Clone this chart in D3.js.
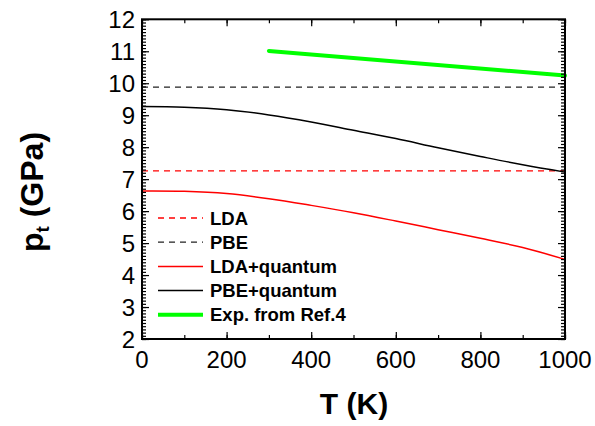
<!DOCTYPE html>
<html>
<head>
<meta charset="utf-8">
<script src="https://cdn.jsdelivr.net/npm/d3@7"></script>
<style>
  body { margin: 0; background: #fff; }
  text { font-family: Arial, "Liberation Sans", sans-serif; }
</style>
</head>
<body>
<script>
// temperatures (K) and transition pressures (GPa)
var temps = [0, 100, 200, 300, 400, 500, 600, 700, 800, 900, 1000];
var ldaQuantum = [6.63, 6.62, 6.55, 6.39, 6.18, 5.95, 5.69, 5.42, 5.15, 4.86, 4.49];
var pbeQuantum = [9.27, 9.25, 9.17, 9.01, 8.79, 8.53, 8.27, 7.98, 7.71, 7.45, 7.22];
var ldaStatic = 7.26;
var pbeStatic = 9.88;
var expTemps = [300, 1000];
var expValues = [11.01, 10.24];
var xTicks = [0, 200, 400, 600, 800, 1000];
var yTicks = [2, 3, 4, 5, 6, 7, 8, 9, 10, 11, 12];

var width = 595, height = 426;
var plotLeft = 142, plotRight = 565, plotTop = 19.3, plotBottom = 339;

var svg = d3.select("body").append("svg")
    .attr("width", width)
    .attr("height", height);

var x = d3.scaleLinear().domain([0, 1000]).range([plotLeft, plotRight]);
var y = d3.scaleLinear().domain([2, 12]).range([plotBottom, plotTop]);

var line = d3.line()
    .x(function(d) { return x(d[0]); })
    .y(function(d) { return y(d[1]); })
    .curve(d3.curveCatmullRom.alpha(0.5));

// static (dashed) results
svg.append("line")
    .attr("x1", x(0)).attr("x2", x(1000))
    .attr("y1", y(ldaStatic)).attr("y2", y(ldaStatic))
    .attr("stroke", "#ff0000").attr("stroke-width", 1.3)
    .attr("stroke-dasharray", "6,5");
svg.append("line")
    .attr("x1", x(0)).attr("x2", x(1000))
    .attr("y1", y(pbeStatic)).attr("y2", y(pbeStatic))
    .attr("stroke", "#222").attr("stroke-width", 1.3)
    .attr("stroke-dasharray", "6,5");

svg.append("path")
    .datum(d3.zip(temps, ldaQuantum))
    .attr("d", line)
    .attr("fill", "none").attr("stroke", "#ff0000").attr("stroke-width", 1.5);

svg.append("path")
    .datum(d3.zip(temps, pbeQuantum))
    .attr("d", line)
    .attr("fill", "none").attr("stroke", "#000").attr("stroke-width", 1.5);

svg.append("path")
    .datum(d3.zip(expTemps, expValues))
    .attr("d", d3.line().x(function(d) { return x(d[0]); }).y(function(d) { return y(d[1]); }))
    .attr("fill", "none").attr("stroke", "#00ff00").attr("stroke-width", 4)
    .attr("stroke-linecap", "round");

// axes with inward ticks
function minorRange(a, b, s) {
  var out = [];
  for (var i = 0; a + i * s <= b + 1e-9; i++) out.push(+(a + i * s).toFixed(2));
  return out;
}
var xMinor = minorRange(0, 1000, 100);
var yMinor = minorRange(2, 12, 0.1);

svg.append("g").attr("transform", "translate(0," + plotBottom + ")")
    .call(d3.axisTop(x).tickValues(xMinor).tickSize(4).tickFormat(""));
svg.append("g").attr("transform", "translate(0," + plotBottom + ")")
    .call(d3.axisTop(x).tickValues(xTicks).tickSize(7).tickFormat(""));
svg.append("g").attr("transform", "translate(0," + plotTop + ")")
    .call(d3.axisBottom(x).tickValues(xMinor).tickSize(4).tickFormat(""));
svg.append("g").attr("transform", "translate(0," + plotTop + ")")
    .call(d3.axisBottom(x).tickValues(xTicks).tickSize(7).tickFormat(""));

svg.append("g").attr("transform", "translate(" + plotLeft + ",0)")
    .call(d3.axisRight(y).tickValues(yMinor).tickSize(4).tickFormat(""));
svg.append("g").attr("transform", "translate(" + plotLeft + ",0)")
    .call(d3.axisRight(y).tickValues(yTicks).tickSize(7).tickFormat(""));
svg.append("g").attr("transform", "translate(" + plotRight + ",0)")
    .call(d3.axisLeft(y).tickValues(yMinor).tickSize(4).tickFormat(""));
svg.append("g").attr("transform", "translate(" + plotRight + ",0)")
    .call(d3.axisLeft(y).tickValues(yTicks).tickSize(7).tickFormat(""));

svg.selectAll(".domain").remove();
svg.selectAll(".tick line").attr("stroke", "#000").attr("stroke-width", 1.2);

svg.append("rect")
    .attr("x", plotLeft).attr("y", plotTop)
    .attr("width", plotRight - plotLeft).attr("height", plotBottom - plotTop)
    .attr("fill", "none").attr("stroke", "#000").attr("stroke-width", 2);

// tick labels
svg.selectAll(".xlab").data(xTicks).enter().append("text")
    .attr("x", function(d) { return x(d); })
    .attr("y", 368)
    .attr("text-anchor", "middle")
    .attr("font-size", 24)
    .text(function(d) { return d; });

svg.selectAll(".ylab").data(yTicks).enter().append("text")
    .attr("x", 135)
    .attr("y", function(d) { return y(d); })
    .attr("dy", "0.36em")
    .attr("text-anchor", "end")
    .attr("font-size", 24)
    .text(function(d) { return d; });

// axis titles
svg.append("text")
    .attr("x", 354).attr("y", 414)
    .attr("text-anchor", "middle")
    .attr("font-size", 30).attr("font-weight", "bold")
    .text("T (K)");

var yt = svg.append("text")
    .attr("transform", "translate(43,192) rotate(-90)")
    .attr("text-anchor", "middle")
    .attr("font-size", 32).attr("font-weight", "bold");
yt.append("tspan").text("p");
yt.append("tspan").attr("font-size", 19).attr("dy", 6).text("t");
yt.append("tspan").attr("dy", -6).text(" (GPa)");

// legend
var legend = [
  { name: "LDA", color: "#ff0000", width: 1.3, dash: "6,5" },
  { name: "PBE", color: "#222", width: 1.3, dash: "6,5" },
  { name: "LDA+quantum", color: "#ff0000", width: 1.5, dash: null },
  { name: "PBE+quantum", color: "#000", width: 1.5, dash: null },
  { name: "Exp. from Ref.4", color: "#00ff00", width: 4, dash: null }
];
var lg = svg.selectAll(".leg").data(legend).enter().append("g")
    .attr("transform", function(d, i) { return "translate(0," + (218 + i * 24.2) + ")"; });
lg.append("line")
    .attr("x1", 158).attr("x2", 203)
    .attr("stroke", function(d) { return d.color; })
    .attr("stroke-width", function(d) { return d.width; })
    .attr("stroke-dasharray", function(d) { return d.dash; });
lg.append("text")
    .attr("x", 210).attr("dy", "0.36em")
    .attr("font-size", 18.5).attr("font-weight", "bold")
    .text(function(d) { return d.name; });
</script>
</body>
</html>
